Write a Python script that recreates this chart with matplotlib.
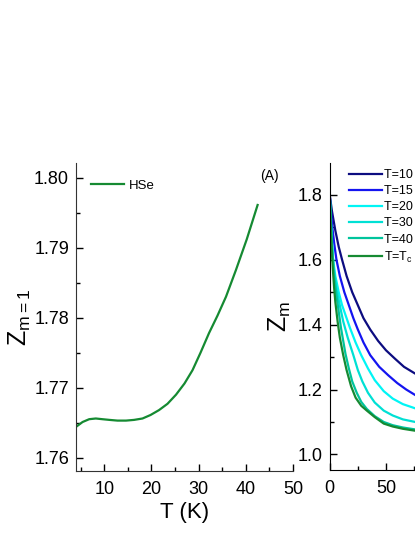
import numpy as np
import matplotlib
matplotlib.use('Agg')
import matplotlib.pyplot as plt
from matplotlib.ticker import MultipleLocator

plt.rcParams['font.family'] = ['Liberation Sans', 'DejaVu Sans']
plt.rcParams['mathtext.fontset'] = 'custom'
plt.rcParams['mathtext.rm'] = 'Liberation Sans'
plt.rcParams['mathtext.it'] = 'Liberation Sans'

# panel A: Z_{m=1} vs T for HSe
t_hse = [4.0, 5.4, 6.8, 8.2, 9.6, 11.1, 12.8, 14.6, 16.3, 18.1, 19.8, 21.6, 23.4,
         25.2, 27.0, 28.7, 30.4, 32.2, 34.0, 35.8, 37.9, 40.2, 42.5]
z_hse = [1.7644, 1.7651, 1.7655, 1.7656, 1.7655, 1.7654, 1.7653, 1.7653, 1.7654, 1.7656,
         1.7661, 1.7668, 1.7677, 1.7690, 1.7706, 1.7725, 1.7750, 1.7778, 1.7803, 1.7830,
         1.7868, 1.7912, 1.7961]

# panel B: Z_m vs m for several temperatures
m_10 = [0, 2, 5, 8, 11, 15, 20, 25, 30, 36, 43, 50, 58, 66, 76, 90]
z_10 = [1.80, 1.75, 1.69, 1.64, 1.60, 1.55, 1.50, 1.46, 1.42, 1.385, 1.35, 1.321, 1.295,
        1.27, 1.249, 1.225]
m_15 = [0, 2, 4, 6, 9, 13, 17, 21, 25, 30, 36, 44, 52, 60, 68, 76, 90]
z_15 = [1.80, 1.71, 1.65, 1.60, 1.55, 1.50, 1.46, 1.42, 1.385, 1.345, 1.306, 1.27, 1.244,
        1.22, 1.20, 1.183, 1.165]
m_20 = [0, 1, 3, 5, 8, 11, 14, 18, 23, 28, 34, 40, 48, 56, 65, 76, 90]
z_20 = [1.80, 1.72, 1.60, 1.55, 1.50, 1.46, 1.43, 1.39, 1.345, 1.306, 1.265, 1.229, 1.195,
        1.172, 1.155, 1.142, 1.128]
m_30 = [0, 1, 2, 4, 6, 9, 12, 16, 21, 25, 29, 34, 40, 48, 56, 65, 76, 90]
z_30 = [1.80, 1.70, 1.64, 1.56, 1.51, 1.459, 1.41, 1.36, 1.306, 1.26, 1.225, 1.19, 1.16,
        1.135, 1.12, 1.108, 1.100, 1.092]
m_40 = [0, 1, 2, 3, 4, 6, 8, 10, 12, 14, 17, 20, 24, 28, 33, 40, 48, 56, 65, 76, 90]
z_40 = [1.80, 1.72, 1.65, 1.59, 1.55, 1.49, 1.44, 1.39, 1.35, 1.31, 1.265, 1.225, 1.19,
        1.162, 1.14, 1.118, 1.10, 1.09, 1.083, 1.077, 1.07]
m_tc = [0, 1, 2, 3, 4, 5, 7, 9, 12, 15, 19, 23, 28, 33, 40, 48, 56, 65, 76, 90]
z_tc = [1.80, 1.70, 1.62, 1.56, 1.51, 1.47, 1.41, 1.36, 1.306, 1.26, 1.21, 1.175, 1.15,
        1.135, 1.115, 1.095, 1.086, 1.079, 1.073, 1.066]

series = [(m_10, z_10, 'T=10 K', '#0c0c80'),
          (m_15, z_15, 'T=15 K', '#1414f0'),
          (m_20, z_20, 'T=20 K', '#00f5f5'),
          (m_30, z_30, 'T=30 K', '#00e0d4'),
          (m_40, z_40, 'T=40 K', '#00c49c'),
          (m_tc, z_tc, r'T=T$_\mathrm{c}$', '#158a32')]

fig = plt.figure(figsize=(4.15, 5.37), dpi=100)

ax1 = fig.add_axes([0.1831, 0.1229, 0.5229, 0.5736])
ax1.plot(t_hse, z_hse, color='#158a32', lw=1.6, label='HSe')
ax1.set_xlim(4, 50)
ax1.set_ylim(1.7581, 1.8021)
ax1.xaxis.set_major_locator(MultipleLocator(10))
ax1.xaxis.set_minor_locator(MultipleLocator(5))
ax1.yaxis.set_major_locator(MultipleLocator(0.01))
ax1.yaxis.set_minor_locator(MultipleLocator(0.005))
ax1.yaxis.set_major_formatter(plt.FormatStrFormatter('%.2f'))
ax1.set_xlabel('T (K)', fontsize=16, labelpad=3)
ax1.set_ylabel(r'Z$_\mathrm{m=1}$', fontsize=18)
ax1.yaxis.set_label_coords(-0.20, 0.5)
ax1.text(0.89, 0.957, '(A)', transform=ax1.transAxes, fontsize=10, ha='center', va='center')
ax1.legend(loc='upper left', frameon=False, fontsize=9.5, handlelength=2.5,
           handletextpad=0.35, borderpad=0, borderaxespad=0,
           bbox_to_anchor=(0.069, 0.947))

ax2 = fig.add_axes([0.7945, 0.1248, 0.678, 0.5717])
for m, z, lab, col in series:
    ax2.plot(m, z, color=col, lw=1.6, label=lab)
ax2.set_xlim(0, 250)
ax2.set_ylim(0.952, 1.8985)
ax2.xaxis.set_major_locator(MultipleLocator(50))
ax2.xaxis.set_minor_locator(MultipleLocator(25))
ax2.yaxis.set_major_locator(MultipleLocator(0.2))
ax2.yaxis.set_minor_locator(MultipleLocator(0.1))
ax2.yaxis.set_major_formatter(plt.FormatStrFormatter('%.1f'))
ax2.set_ylabel(r'Z$_\mathrm{m}$', fontsize=18)
ax2.yaxis.set_label_coords(-0.13, 0.5)
ax2.legend(loc='upper left', frameon=False, fontsize=9, handlelength=2.6,
           handletextpad=0.2, labelspacing=0.33, borderpad=0, borderaxespad=0,
           bbox_to_anchor=(0.0697, 0.98))

for ax in (ax1, ax2):
    for side in ('top', 'right'):
        ax.spines[side].set_visible(False)
    ax.tick_params(which='both', direction='in', labelsize=13, width=1)
    ax.tick_params(which='major', length=5)
    ax.tick_params(which='minor', length=3)
    ax.tick_params(axis='x', which='major', pad=7)
    ax.tick_params(axis='y', which='major', pad=5)
for s in ax1.spines.values():
    s.set_color('#333333')

fig.savefig('out.png', dpi=100)
